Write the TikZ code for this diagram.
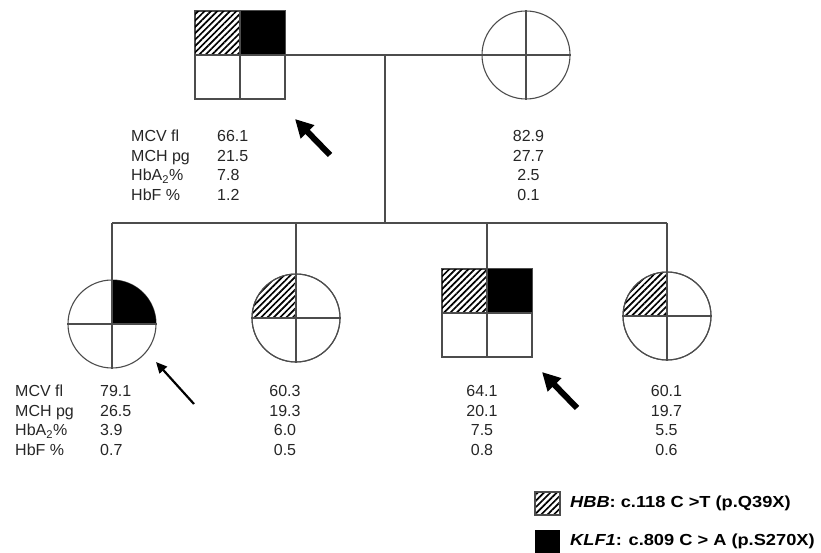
\documentclass[tikz,border=0pt]{standalone}
\usepackage{fontspec}
\setmainfont{Liberation Sans}
\newfontfamily\legendfont[FakeStretch=1.14]{Liberation Sans}
\usetikzlibrary{arrows.meta,patterns.meta}
\tikzset{
  ln/.style={draw=black!70, line width=1.1pt},
  hatch/.style={pattern={Lines[angle=45,distance=4.5pt,line width=1.7pt]}, pattern color=black},
  blk/.style={fill=black},
  malebox/.style={ln, rectangle, minimum width=90pt, minimum height=88pt, inner sep=0pt},
  femcirc/.style={ln, circle, minimum size=88pt, inner sep=0pt},
  datatext/.style={font=\fontsize{16}{19.5}\selectfont, inner sep=0pt, text=black!85},
  legtext/.style={font=\legendfont\fontsize{16}{18}\selectfont\bfseries, inner sep=0pt, anchor=west},
  bigarrow/.style={line width=6pt, -{Triangle[length=18pt,width=18pt]}},
  thinarrow/.style={line width=2.2pt, -{Triangle[length=11pt,width=10pt]}},
}
\begin{document}
\begin{tikzpicture}[x=1pt,y=1pt]
\useasboundingbox (0,0) rectangle (821,-553);
% parents
\node[malebox] (father) at (240,-55) {};
\node[femcirc] (mother) at (526,-55) {};
\fill[hatch] (father.north west) rectangle (father.center);
\fill[blk] (father.north) rectangle (father.east);
\draw[ln] (father.north west) rectangle (father.south east);
\draw[ln] (father.north) -- (father.south);
\draw[ln] (father.west) -- (father.east);
\draw[ln] (mother.north) -- (mother.south);
\draw[ln] (mother.west) -- (mother.east);
\draw[ln] (father.east) -- (mother.west);
% descent
\coordinate (mid) at (385,-55);
\coordinate (sib) at (385,-223);
\draw[ln] (mid) -- (sib);
% children
\node[femcirc] (c1) at (112,-324) {};
\node[femcirc] (c2) at (296,-318) {};
\node[malebox] (c3) at (487,-313) {};
\node[femcirc] (c4) at (667,-316) {};
\draw[ln] (c1.north |- sib) -- (c4.north |- sib);
\foreach \c in {c1,c2,c3,c4} \draw[ln] (\c.north |- sib) -- (\c.north);
% child 1: KLF1
\fill[blk] (c1.center) -- ++(0,44) arc[start angle=90,end angle=0,radius=44] -- cycle;
\draw[ln] (c1.north) -- (c1.south);
\draw[ln] (c1.west) -- (c1.east);
% child 2: HBB
\fill[hatch] (c2.center) -- ++(-44,0) arc[start angle=180,end angle=90,radius=44] -- cycle;
\draw[ln] (c2.center) circle[radius=44];
\draw[ln] (c2.north) -- (c2.south);
\draw[ln] (c2.west) -- (c2.east);
% child 3: both
\fill[hatch] (c3.north west) rectangle (c3.center);
\fill[blk] (c3.north) rectangle (c3.east);
\draw[ln] (c3.north west) rectangle (c3.south east);
\draw[ln] (c3.north) -- (c3.south);
\draw[ln] (c3.west) -- (c3.east);
% child 4: HBB
\fill[hatch] (c4.center) -- ++(-44,0) arc[start angle=180,end angle=90,radius=44] -- cycle;
\draw[ln] (c4.center) circle[radius=44];
\draw[ln] (c4.north) -- (c4.south);
\draw[ln] (c4.west) -- (c4.east);
% arrows
\coordinate (fa1) at (330,-155);
\coordinate (fa2) at (295,-119);
\draw[bigarrow] (fa1) -- (fa2);
\coordinate (ca1) at (194,-404);
\coordinate (ca2) at (156,-362);
\draw[thinarrow] (ca1) -- (ca2);
\coordinate (cb1) at (577,-408);
\coordinate (cb2) at (542,-372);
\draw[bigarrow] (cb1) -- (cb2);
% data
\node[datatext, align=left, anchor=west] (flab) at (131,-165.5) {MCV fl\\MCH pg\\HbA\textsubscript{2}\%\\HbF \%};
\node[datatext, align=left, anchor=west] (fval) at (217,-165.5) {66.1\\21.5\\7.8\\1.2};
\node[datatext, align=center] (mval) at (528.5,-165.5) {82.9\\27.7\\2.5\\0.1};
\node[datatext, align=left, anchor=west] (c1lab) at (15,-420.5) {MCV fl\\MCH pg\\HbA\textsubscript{2}\%\\HbF \%};
\node[datatext, align=left, anchor=west] (c1val) at (100,-420.5) {79.1\\26.5\\3.9\\0.7};
\node[datatext, align=center] (c2val) at (285,-420.5) {60.3\\19.3\\6.0\\0.5};
\node[datatext, align=center] (c3val) at (482,-420.5) {64.1\\20.1\\7.5\\0.8};
\node[datatext, align=center] (c4val) at (666.5,-420.5) {60.1\\19.7\\5.5\\0.6};
% legend
\node[ln, hatch, minimum width=25pt, minimum height=23pt, inner sep=0pt] (lh) at (547.5,-503.5) {};
\node[blk, minimum width=25pt, minimum height=23pt, inner sep=0pt] (lk) at (547.5,-541.5) {};
\node[legtext] (lht) at (570,-503.5) {\textit{HBB}: c.118 C >T (p.Q39X)};
\node[legtext] (lkt) at (570,-541.5) {\textit{KLF1}: c.809 C > A (p.S270X)};
\end{tikzpicture}
\end{document}
